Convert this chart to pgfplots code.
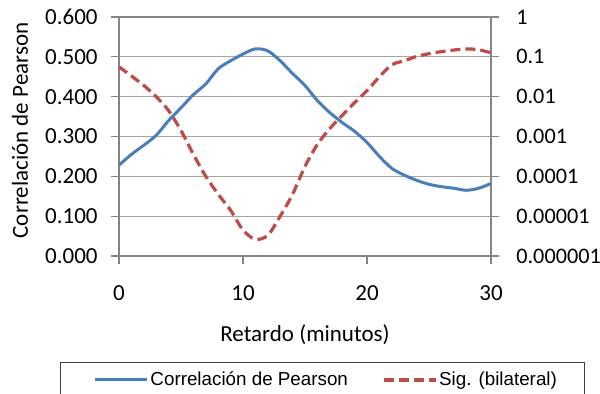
\documentclass[border=0pt]{standalone}
\usepackage{fontspec}
\setmainfont{Carlito}
\newfontfamily\legfont{Liberation Sans}
\usepackage{pgfplots}
\pgfplotsset{compat=1.18}
\definecolor{xlblue}{HTML}{4A7EBB}
\definecolor{xlred}{HTML}{BE4B48}
\definecolor{xlgrid}{HTML}{A6A6A6}
\definecolor{xlaxis}{HTML}{868686}
\pgfplotsset{
  common/.style={
    at={(0,0)}, anchor=south west,
    scale only axis, width=186pt, height=119.5pt,
    xmin=0, xmax=30,
    font=\fontsize{11.5}{13.5}\selectfont,
    tick align=outside, major tick length=4pt,
    every tick/.style={xlaxis, line width=0.6pt},
    axis line style={xlaxis, line width=0.6pt},
  },
  blueleg/.style={legend image code/.code={\path (0pt,0pt); \draw[##1] (3.5pt,0pt) -- (29.5pt,0pt);}},
}
\begin{document}
\begin{tikzpicture}
\path[use as bounding box] (-59.5pt,-69pt) rectangle (240.5pt,128pt);
\begin{axis}[common,
  ymin=0, ymax=0.6,
  xtick={0,10,20,30}, xticklabels={0,10,20,30},
  ytick={0,0.1,0.2,0.3,0.4,0.5,0.6},
  yticklabels={0.000,0.100,0.200,0.300,0.400,0.500,0.600},
  xtick pos=left, ytick pos=left,
  ymajorgrids, major grid style={xlgrid, line width=0.6pt},
  xticklabel style={inner sep=0pt, anchor=center, yshift=-14.5pt},
  yticklabel style={inner sep=0pt, anchor=east, xshift=-6.5pt},
  xlabel={Retardo (minutos)},
  xlabel style={at={(axis description cs:0.5,0)}, anchor=center, yshift=-39.5pt},
  ylabel={Correlación de Pearson},
  ylabel style={at={(axis description cs:0,0.5)}, anchor=center, xshift=3pt, yshift=49.5pt},
]
\addplot[xlblue, line width=1.5pt, smooth, tension=0.5] coordinates {
(0,0.228) (1,0.255) (2,0.278) (3,0.303) (4,0.340) (5,0.372) (6,0.405)
(7,0.432) (8,0.470) (9,0.490) (10,0.507) (11,0.520) (12,0.515) (13,0.490)
(14,0.458) (15,0.428) (16,0.390) (17,0.360) (18,0.335) (19,0.313) (20,0.285)
(21,0.250) (22,0.220) (23,0.203) (24,0.190) (25,0.180) (26,0.174) (27,0.170)
(28,0.165) (29,0.170) (30,0.182)};
\end{axis}
\begin{axis}[common,
  ymode=log, ymin=1e-6, ymax=1,
  hide x axis,
  axis line style={draw=none},
  ytick pos=right, yminorticks=false,
  ytick={1e-6,1e-5,1e-4,1e-3,1e-2,1e-1,1},
  yticklabels={0.000001,0.00001,0.0001,0.001,0.01,0.1,1},
  yticklabel style={inner sep=0pt, anchor=west, xshift=8.5pt, font=\fontsize{11.1}{13}\selectfont},
  legend columns=2,
  legend style={at={(-0.1586,-0.4435)}, anchor=north west,
    draw=black!75, line width=0.5pt, inner xsep=13pt, inner ysep=2.5pt,
    font=\legfont\fontsize{9.4}{11}\selectfont,
    nodes={inner xsep=1pt},
    /tikz/every even column/.append style={column sep=16pt}},
  legend image code/.code={\draw[#1] (0pt,0pt) -- (26pt,0pt);},
]
\addlegendimage{xlblue, line width=1.5pt, blueleg}
\addlegendentry{Correlación de Pearson}
\addplot[xlred, line width=1.6pt, dash pattern=on 5pt off 2.5pt, smooth, tension=0.5] coordinates {
(0,0.0562) (1,0.0331) (2,0.0191) (3,0.0100) (4,0.00447) (5,0.00141)
(6,3.55e-4) (7,1.0e-4) (8,3.55e-5) (9,1.41e-5) (10,4.47e-6) (11,2.63e-6)
(12,3.31e-6) (13,1.0e-5) (14,3.55e-5) (15,1.78e-4) (16,6.31e-4) (17,1.58e-3)
(18,3.39e-3) (19,7.08e-3) (20,0.0141) (21,0.0316) (22,0.0631) (23,0.0794)
(24,0.102) (25,0.120) (26,0.135) (27,0.148) (28,0.158) (29,0.151) (30,0.126)};
\addlegendentry{Sig. (bilateral)}
\end{axis}
\end{tikzpicture}
\end{document}
